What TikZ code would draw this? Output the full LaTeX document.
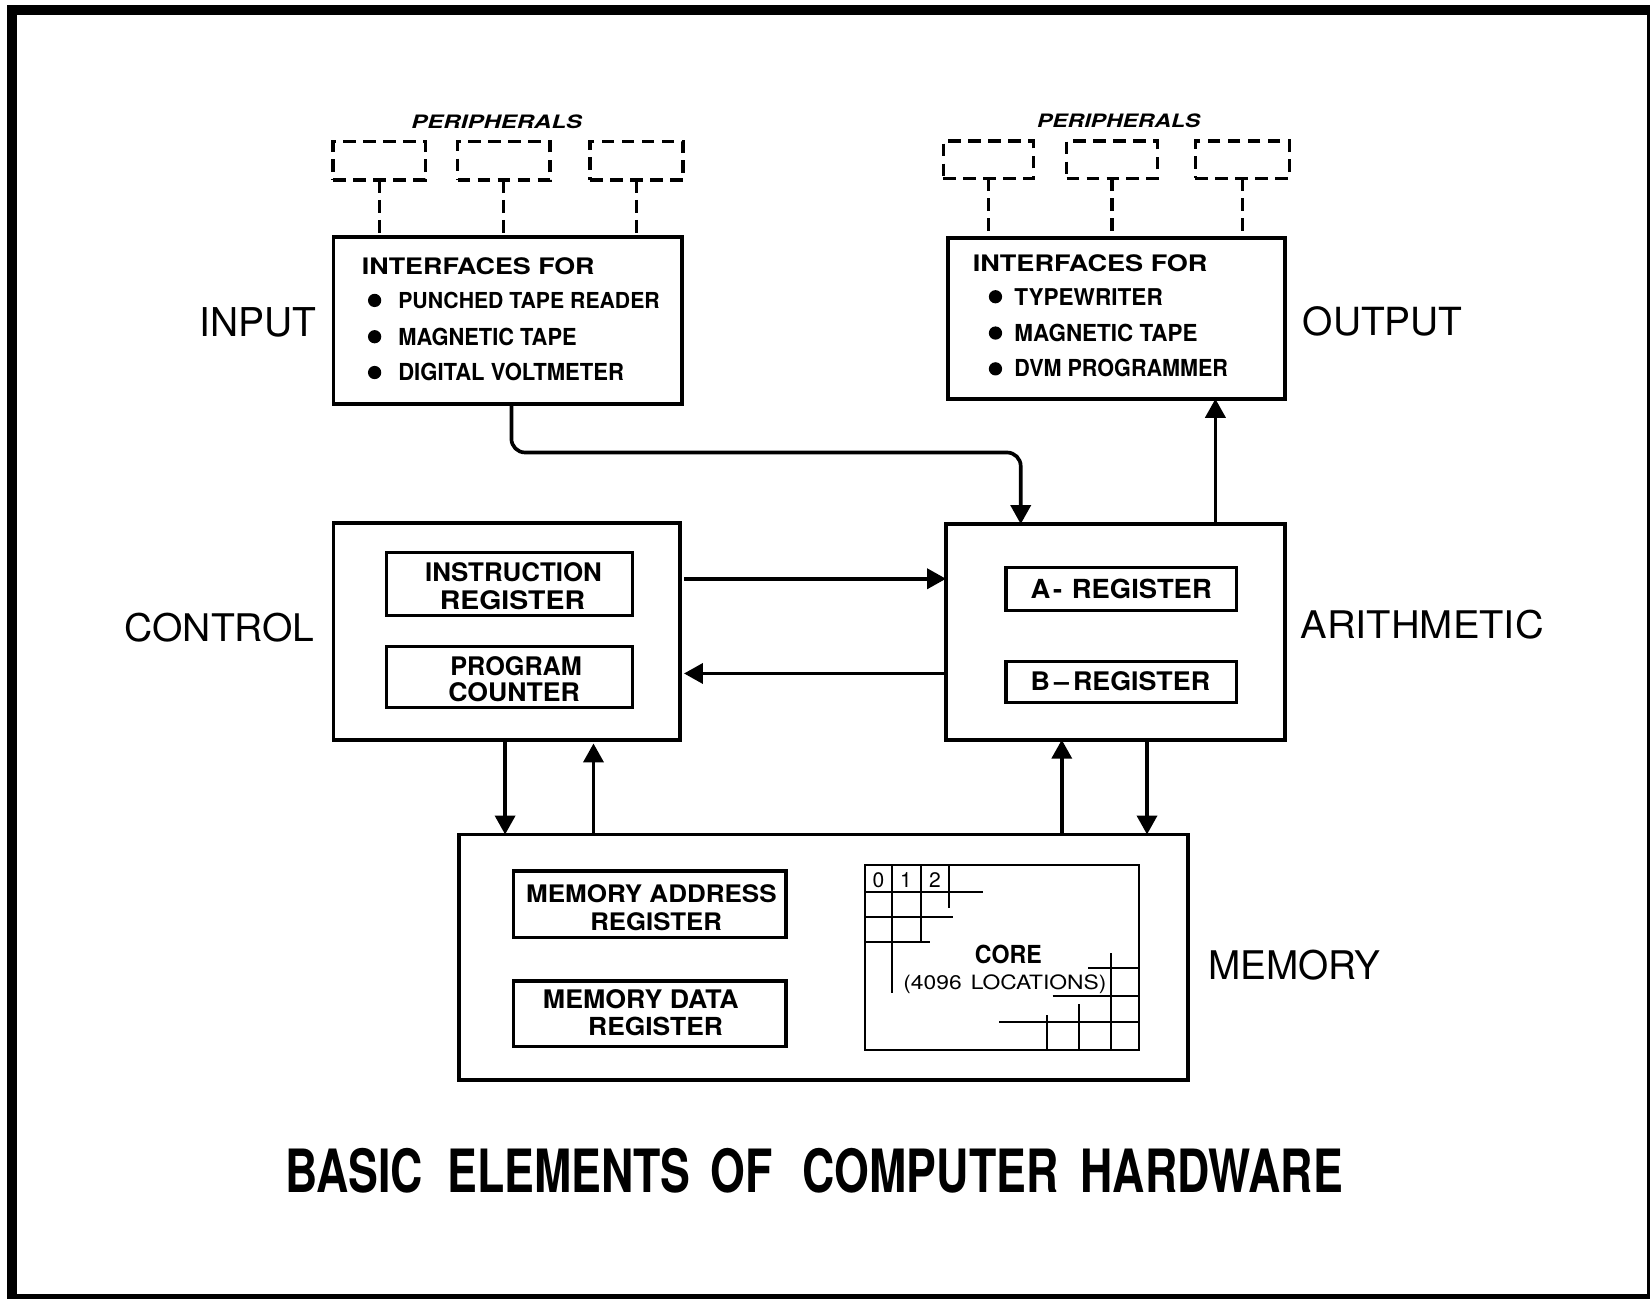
\documentclass[tikz,border=0pt]{standalone}
\usepackage{fontspec}
\setmainfont{TeX Gyre Heros}
\usepackage{graphicx}
\usetikzlibrary{arrows.meta}
\newcommand{\fit}[3]{\resizebox{#1pt}{#2pt}{#3}}
\begin{document}
\begin{tikzpicture}[x=1pt,y=-1pt,
  box/.style={draw, line width=3.5pt, rectangle, inner sep=0pt, outer sep=0pt},
  regbox/.style={draw, line width=3pt, rectangle, inner sep=0pt, outer sep=0pt},
  corebox/.style={draw, line width=2pt, rectangle, inner sep=0pt, outer sep=0pt},
  perbox/.style={draw, line width=3pt, dash pattern=on 12pt off 7pt, rectangle, inner sep=0pt, outer sep=0pt},
  perline/.style={line width=3pt, dash pattern=on 12pt off 7pt},
  conn/.style={line width=3.5pt},
  arr/.style={line width=3.5pt, -{Triangle[length=18pt,width=19pt]}},
  lbl/.style={inner sep=0pt, outer sep=0pt, anchor=base},
  grid/.style={line width=2pt}
]
\useasboundingbox (0,0) rectangle (1568,1234);
\clip (0,0) rectangle (1568,1234);
\fill[white] (0,0) rectangle (1568,1234);
\draw[line width=9.5pt] (11.3,9.2) rectangle (1570,1234);

% ---------- main boxes ----------
\node[box, minimum width=331pt, minimum height=159pt] (inp) at (482.5,304.5) {};
\node[box, minimum width=320pt, minimum height=153pt] (out) at (1061,302.5) {};
\node[box, minimum width=329pt, minimum height=206.5pt] (ctrl) at (481.5,600.25) {};
\node[box, minimum width=322pt, minimum height=205pt] (arith) at (1060,600.5) {};
\node[box, minimum width=693pt, minimum height=233pt] (mem) at (782.5,909.5) {};

% ---------- peripherals ----------
\node[perbox, minimum width=87.5pt, minimum height=36.4pt] (p1) at (360.25,152.8) {};
\node[perbox, minimum width=87.7pt, minimum height=36.4pt] (p2) at (478.85,152.8) {};
\node[perbox, minimum width=88.3pt, minimum height=36.4pt] (p3) at (604.85,152.8) {};
\node[perbox, minimum width=85.5pt, minimum height=35.5pt] (q1) at (939.25,151.75) {};
\node[perbox, minimum width=86.5pt, minimum height=35.5pt] (q2) at (1056.75,151.75) {};
\node[perbox, minimum width=89pt, minimum height=35.5pt] (q3) at (1180.5,151.75) {};
\draw[perline] (p1.south) -- (inp.north -| p1.south);
\draw[perline] (p2.south) -- (inp.north -| p2.south);
\draw[perline] (p3.south) -- (inp.north -| p3.south);
\draw[perline] (q1.south) -- (out.north -| q1.south);
\draw[perline] (q2.south) -- (out.north -| q2.south);
\draw[perline] (q3.south) -- (out.north -| q3.south);
\node[lbl] (perin) at (472,122) {\fit{162}{13}{\bfseries\itshape PERIPHERALS}};
\node[lbl] (perout) at (1063,121) {\fit{155}{13}{\bfseries\itshape PERIPHERALS}};

% ---------- interface texts ----------
\node[lbl] (i0) at (454.5,260.5) {\fit{221}{16}{\bfseries INTERFACES FOR}};
\node[lbl] (i1) at (502.75,293) {\fit{248.5}{15.5}{\bfseries PUNCHED TAPE READER}};
\node[lbl] (i2) at (463.25,328) {\fit{169.5}{16.5}{\bfseries MAGNETIC TAPE}};
\node[lbl] (i3) at (485.75,362) {\fit{214.5}{16.5}{\bfseries DIGITAL VOLTMETER}};
\fill (356,285.5) circle (6.3);
\fill (356,320) circle (6.3);
\fill (356,354) circle (6.3);

\node[lbl] (o0) at (1036,258) {\fit{223}{16}{\bfseries INTERFACES FOR}};
\node[lbl] (o1) at (1034.5,290) {\fit{141}{16}{\bfseries TYPEWRITER}};
\node[lbl] (o2) at (1051,324.5) {\fit{174}{16.5}{\bfseries MAGNETIC TAPE}};
\node[lbl] (o3) at (1065.5,358) {\fit{203}{16.5}{\bfseries DVM PROGRAMMER}};
\fill (946,282) circle (6.3);
\fill (946,316.5) circle (6.3);
\fill (946,350.5) circle (6.3);

% ---------- side labels ----------
\node[lbl] (lin) at (245.5,320) {\fit{111}{27.5}{INPUT}};
\node[lbl] (lout) at (1314,318.5) {\fit{152}{27.5}{OUTPUT}};
\node[lbl] (lctrl) at (208.75,610) {\fit{180.5}{27}{CONTROL}};
\node[lbl] (larith) at (1351.5,607) {\fit{231}{27}{ARITHMETIC}};
\node[lbl] (lmem) at (1230,931) {\fit{164}{28}{MEMORY}};

% ---------- registers ----------
\node[regbox, minimum width=233.5pt, minimum height=60pt] (ir) at (484.25,555) {};
\node[regbox, minimum width=233.5pt, minimum height=57.5pt] (pc) at (484.25,643.25) {};
\node[lbl] (ir1) at (488,553) {\fit{168}{18}{\bfseries INSTRUCTION}};
\node[lbl] (ir2) at (487,579) {\fit{138}{18}{\bfseries REGISTER}};
\node[lbl] (pc1) at (490.5,642) {\fit{125}{18}{\bfseries PROGRAM}};
\node[lbl] (pc2) at (488.5,667) {\fit{125}{18}{\bfseries COUNTER}};

\node[regbox, minimum width=219pt, minimum height=41pt] (areg) at (1065.5,559.5) {};
\node[regbox, minimum width=219pt, minimum height=39pt] (breg) at (1065.5,648) {};
\node[lbl] (at) at (1065.5,568.5) {\fit{172}{18.5}{\bfseries A\kern0.1em-\kern0.35em REGISTER}};
\node[lbl] (bt) at (1064.75,656.5) {\fit{170.5}{18}{\bfseries B\kern0.15em–\kern0.15em REGISTER}};

\node[regbox, minimum width=259.2pt, minimum height=63pt] (mar) at (617.4,859.2) {};
\node[regbox, minimum width=259.2pt, minimum height=62.4pt] (mdr) at (617.4,963.5) {};
\node[lbl] (mar1) at (619,858) {\fit{238}{17}{\bfseries MEMORY ADDRESS}};
\node[lbl] (mar2) at (623.5,884) {\fit{125}{17}{\bfseries REGISTER}};
\node[lbl] (mdr1) at (609,958) {\fit{186}{18}{\bfseries MEMORY DATA}};
\node[lbl] (mdr2) at (623,984) {\fit{128}{17.5}{\bfseries REGISTER}};

% ---------- core ----------
\node[corebox, minimum width=260pt, minimum height=176pt] (core) at (952,910) {};
\draw[grid] (822,847.4) -- (934.5,847.4);
\draw[grid] (901.8,822) -- (901.8,863.2);
\draw[grid] (822,871.1) -- (905.9,871.1);
\draw[grid] (875.2,822) -- (875.2,894.9);
\draw[grid] (822,894.9) -- (883.8,894.9);
\draw[grid] (847.4,822) -- (847.4,944);
\draw[grid] (1055.8,905.9) -- (1055.8,998);
\draw[grid] (1034.2,920.2) -- (1082,920.2);
\draw[grid] (1000.4,946.2) -- (1082,946.2);
\draw[grid] (1025.7,954.1) -- (1025.7,998);
\draw[grid] (949.7,970.9) -- (1082,970.9);
\draw[grid] (995.3,964.6) -- (995.3,998);
\node[lbl] (d0) at (834.7,843) {\fontsize{20}{20}\selectfont 0};
\node[lbl] (d1) at (861,843) {\fontsize{20}{20}\selectfont 1};
\node[lbl] (d2) at (888.5,843) {\fontsize{20}{20}\selectfont 2};
\node[lbl] (coret) at (958.25,915.5) {\fit{63.5}{17.5}{\bfseries CORE}};
\node[lbl] (loct) at (955,940) {\fit{193}{14}{(4096\kern0.4em LOCATIONS)}};

% ---------- connectors ----------
\coordinate (ia1) at (486,430);
\coordinate (ia2) at (970,0);
\coordinate (ox) at (1155,0);
\coordinate (cy1) at (0,550);
\coordinate (cy2) at (0,640);
\coordinate (mx1) at (480,0);
\coordinate (mx2) at (564,0);
\coordinate (mx3) at (1009,0);
\coordinate (mx4) at (1090,0);
\draw[arr, rounded corners=13pt] (inp.south -| ia1) -- (ia1) -| (arith.north -| ia2);
\draw[arr] (arith.north -| ox) -- (out.south -| ox);
\draw[arr] ([xshift=4pt]ctrl.east |- cy1) -- (arith.west |- cy1);
\draw[arr] (arith.west |- cy2) -- ([xshift=4pt]ctrl.east |- cy2);
\draw[arr] (ctrl.south -| mx1) -- (mem.north -| mx1);
\draw[arr] (mem.north -| mx2) -- ([yshift=-3pt]ctrl.south -| mx2);
\draw[arr] (mem.north -| mx3) -- (arith.south -| mx3);
\draw[arr] (arith.south -| mx4) -- (mem.north -| mx4);

% ---------- title ----------
\node[lbl] (title) at (773.5,1133) {\fit{1005}{42}{\bfseries BASIC\hspace{0.55em}ELEMENTS\hspace{0.45em}OF\hspace{0.67em}COMPUTER\hspace{0.5em}HARDWARE}};
\end{tikzpicture}
\end{document}
